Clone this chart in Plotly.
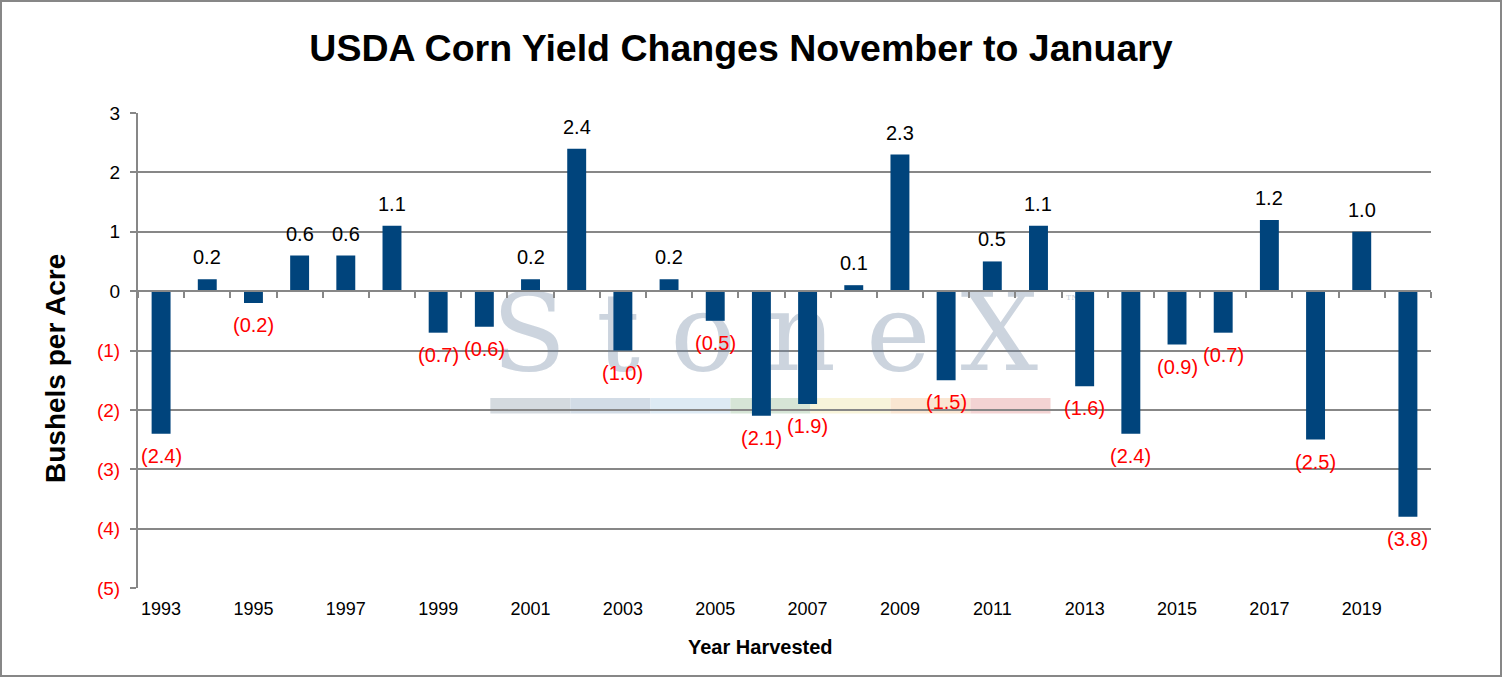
import plotly.graph_objects as go

# data
years = list(range(1993, 2021))
changes = [-2.4, 0.2, -0.2, 0.6, 0.6, 1.1, -0.7, -0.6, 0.2, 2.4,
           -1.0, 0.2, -0.5, -2.1, -1.9, 0.1, 2.3, -1.5, 0.5, 1.1,
           -1.6, -2.4, -0.9, -0.7, 1.2, -2.5, 1.0, -3.8]
y_ticks = [3, 2, 1, 0, -1, -2, -3, -4, -5]
x_ticks = list(range(1993, 2020, 2))

W, H = 1502, 677
L, R, T, B = 138, 71, 113, 89
GRID = "#878787"
BAR = "#00447C"
FONT = "Arial, Liberation Sans, sans-serif"


def fmt(v):
    # negatives in parentheses, like the sheet
    return f"{v:.1f}" if v >= 0 else f"({abs(v):.1f})"


def tick_txt(v):
    return str(v) if v >= 0 else f'<span style="color:red">({abs(v)})</span>'


fig = go.Figure()

# StoneX watermark, sits under the bars (base subplot)
fig.add_trace(go.Scatter(
    x=[2006.4, 2012.75], y=[-0.87, -0.2],
    text=['<span style="letter-spacing:30px">StoneX</span>', "™"],
    mode="text",
    textfont=dict(family="DejaVu Serif, serif",
                  size=[109, 18], color="rgba(105,130,158,0.34)"),
    hoverinfo="skip", showlegend=False,
))

# bars on an overlaid subplot so they cover the watermark
fig.add_trace(go.Bar(
    x=years, y=changes, xaxis="x2", yaxis="y2",
    marker=dict(color=BAR, line=dict(width=0)),
    showlegend=False,
))

# value labels
for yr, v in zip(years, changes):
    fig.add_annotation(
        x=yr, y=v, xref="x", yref="y", text=fmt(v), showarrow=False,
        yshift=22 if v >= 0 else -22, yanchor="middle",
        font=dict(family=FONT, size=20, color="black" if v >= 0 else "red"),
    )

# coloured strip under the logo
strip = ["#D4DADF", "#D2DCE6", "#DDEAF4", "#D6E5D6", "#F8F4DA", "#FAE6D2", "#F3D3D3"]
x0, seg = 2000.13, 1.733
for i, c in enumerate(strip):
    fig.add_shape(type="rect", xref="x", yref="y", layer="below",
                  x0=x0 + i * seg, x1=x0 + (i + 1) * seg, y0=-2.06, y1=-1.8,
                  fillcolor=c, line=dict(width=0))

# outer frame
pw, ph = W - L - R, H - T - B
fig.add_shape(type="rect", xref="paper", yref="paper",
              x0=(1 - L) / pw, x1=1 + (R - 1) / pw,
              y0=(1 - B) / ph, y1=1 + (T - 1) / ph,
              line=dict(color=GRID, width=2))

fig.add_annotation(
    text="<b>Bushels per Acre</b>", textangle=-90, showarrow=False,
    xref="paper", yref="paper", x=(55 - L) / pw, y=(H - B - 368) / ph,
    xanchor="center", yanchor="middle",
    font=dict(family=FONT, size=28, color="black"),
)
fig.add_annotation(
    text="<b>Year Harvested</b>", showarrow=False,
    xref="paper", yref="paper", x=(760 - L) / pw, y=-(647 - (H - B)) / ph,
    xanchor="center", yanchor="middle",
    font=dict(family=FONT, size=20, color="black"),
)

fig.update_layout(
    width=W, height=H,
    margin=dict(l=L, r=R, t=T, b=B),
    paper_bgcolor="white", plot_bgcolor="white",
    font=dict(family=FONT, size=18, color="black"),
    bargap=0.59,
    title=dict(text="<b>USDA Corn Yield Changes November to January</b>",
               xref="container", yref="container", x=741 / W, y=1 - 48 / H,
               xanchor="center", yanchor="middle",
               font=dict(family=FONT, size=37.5, color="black")),
    xaxis=dict(range=[1992.5, 2020.5], tickvals=x_ticks,
               ticktext=[str(t) for t in x_ticks], ticks="",
               showgrid=False, showline=False, zeroline=False,
               ticklabelstandoff=8, tickfont=dict(size=18)),
    yaxis=dict(range=[-5, 3], tickvals=y_ticks,
               ticktext=[tick_txt(t) for t in y_ticks],
               showgrid=True, gridcolor=GRID, gridwidth=2,
               showline=True, linecolor=GRID, linewidth=2,
               ticks="outside", ticklen=6, tickwidth=2, tickcolor=GRID,
               zeroline=False, ticklabelstandoff=6, tickfont=dict(size=19)),
    xaxis2=dict(overlaying="x", anchor="free", position=0.625,
                range=[1992.5, 2020.5], tick0=1992.5, dtick=1,
                ticks="outside", ticklen=6, tickwidth=2, tickcolor=GRID,
                showticklabels=False, showgrid=False, zeroline=False,
                showline=True, linecolor=GRID, linewidth=2),
    yaxis2=dict(overlaying="y", range=[-5, 3], visible=False),
)

fig.write_html("out.html", config={"displayModeBar": False},
               post_script="document.body.style.margin='0';")
